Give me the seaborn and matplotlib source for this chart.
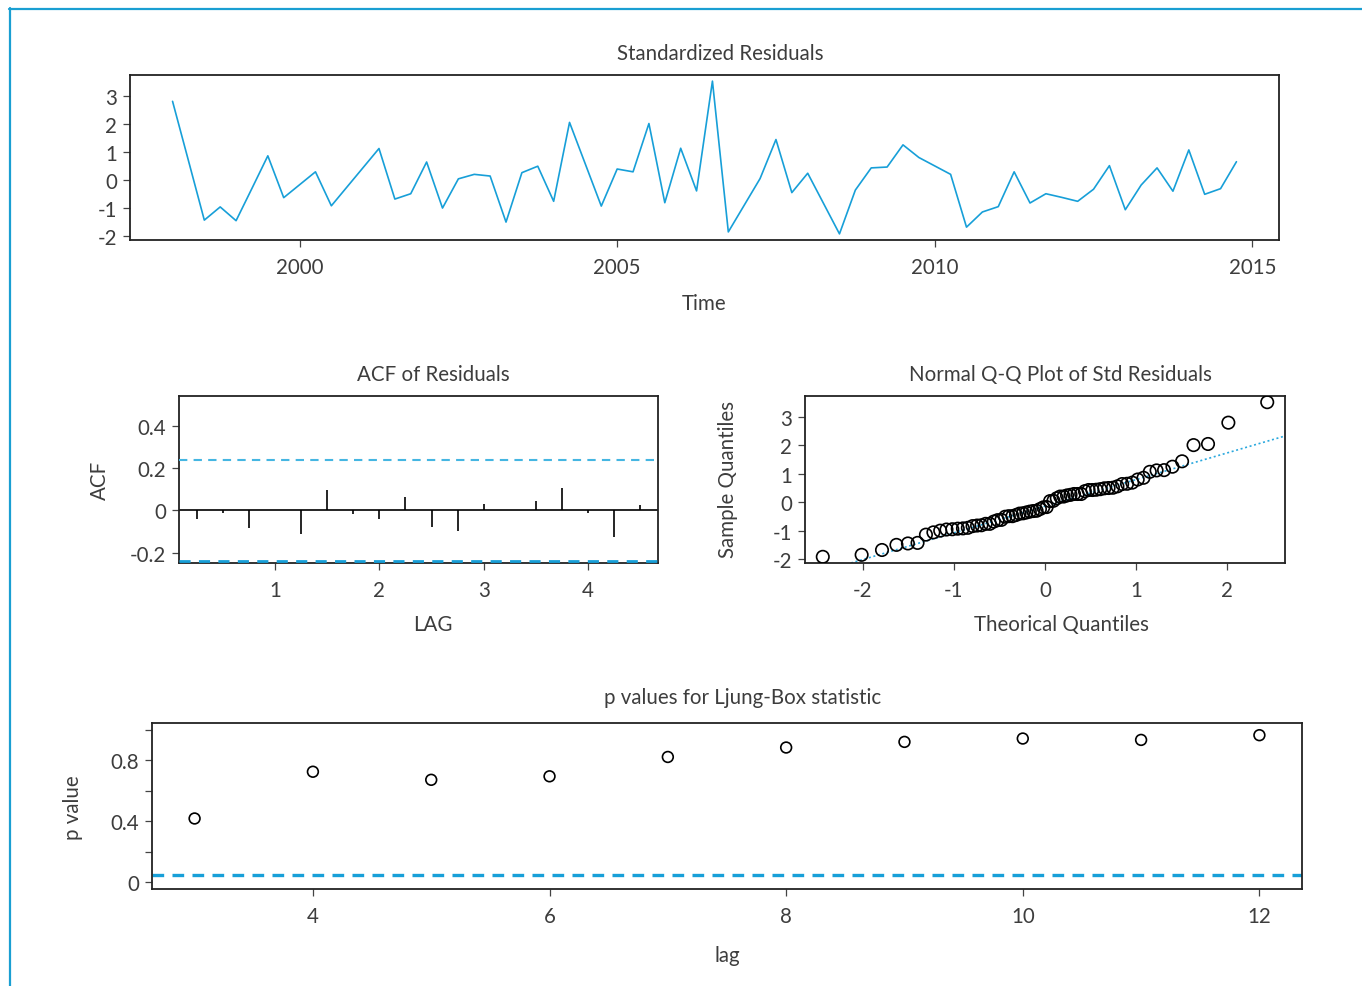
import numpy as np
import pandas as pd
import matplotlib
matplotlib.use("Agg")
import matplotlib.pyplot as plt
from matplotlib.lines import Line2D
import seaborn as sns
from statistics import NormalDist

# ---- data -------------------------------------------------------------
start_year = 1998
periods_per_year = 4

std_resid = [
    2.80, 0.69, -1.43, -0.96,      # 1998
    -1.45, -0.30, 0.86, -0.63,     # 1999
    -0.17, 0.29, -0.92, -0.24,     # 2000
    0.44, 1.12, -0.68, -0.49,      # 2001
    0.64, -1.00, 0.04, 0.20,       # 2002
    0.14, -1.50, 0.26, 0.49,       # 2003
    -0.76, 2.05, 0.56, -0.93,      # 2004
    0.39, 0.29, 2.01, -0.81,       # 2005
    1.13, -0.39, 3.52, -1.85,      # 2006
    -0.90, 0.05, 1.44, -0.45,      # 2007
    0.24, -0.84, -1.92, -0.36,     # 2008
    0.43, 0.46, 1.25, 0.80,        # 2009
    0.50, 0.20, -1.68, -1.14,      # 2010
    -0.95, 0.29, -0.82, -0.49,     # 2011
    -0.62, -0.76, -0.33, 0.51,     # 2012
    -1.06, -0.18, 0.43, -0.40,     # 2013
    1.07, -0.51, -0.31, 0.65,      # 2014
]

acf_lags = [0.25, 0.50, 0.75, 1.00, 1.25, 1.50, 1.75, 2.00, 2.25,
            2.50, 2.75, 3.00, 3.25, 3.50, 3.75, 4.00, 4.25, 4.50]
acf_vals = [-0.039, -0.011, -0.086, 0.002, -0.113, 0.097, -0.019, -0.039, 0.061,
            -0.077, -0.099, 0.030, 0.002, 0.045, 0.105, -0.011, -0.127, 0.024]

lb_lags = [3, 4, 5, 6, 7, 8, 9, 10, 11, 12]
lb_pvals = [0.418, 0.725, 0.672, 0.695, 0.822, 0.884, 0.921, 0.943, 0.934, 0.965]

year_ticks = [2000, 2005, 2010, 2015]

# ---- derived quantities ----------------------------------------------
n = len(std_resid)
time = start_year + np.arange(n) / periods_per_year
ts_df = pd.DataFrame({"Time": time, "resid": std_resid})

nd = NormalDist()
probs = (np.arange(1, n + 1) - 0.5) / n
theo_q = np.array([nd.inv_cdf(p) for p in probs])
samp_q = np.sort(np.array(std_resid))
qq_df = pd.DataFrame({"theo": theo_q, "samp": samp_q})
y_q1, y_q3 = np.percentile(std_resid, [25, 75])
x_q1, x_q3 = nd.inv_cdf(0.25), nd.inv_cdf(0.75)
qq_slope = (y_q3 - y_q1) / (x_q3 - x_q1)
qq_int = y_q1 - qq_slope * x_q1

conf = 1.96 / np.sqrt(n)
lb_df = pd.DataFrame({"lag": lb_lags, "p": lb_pvals})

# ---- style ------------------------------------------------------------
sns.set_theme(style="white")
plt.rcParams["font.family"] = ["Lato", "DejaVu Sans"]
plt.rcParams["font.weight"] = "normal"
plt.rcParams["axes.unicode_minus"] = False

TXT = "#3d3d3d"
BLUE = "#179fd8"
LIGHT_BLUE = "#45b6e2"
SPINE = "#222222"
FS = 14.8

W, H = 1362, 987
fig = plt.figure(figsize=(W / 100, H / 100), dpi=100)
fig.patch.set_facecolor("white")


def add_axes_px(left, top, right, bottom):
    return fig.add_axes([left / W, 1 - bottom / H, (right - left) / W, (bottom - top) / H])


def style_axes(ax):
    ax.set_facecolor("white")
    for s in ax.spines.values():
        s.set_visible(True)
        s.set_color(SPINE)
        s.set_linewidth(1.3)
    ax.tick_params(axis="both", which="both", direction="out", length=5.2, width=0.9,
                   color="#444444", labelcolor=TXT, labelsize=FS,
                   left=True, bottom=True, right=False, top=False)
    ax.tick_params(axis="x", pad=7)
    ax.tick_params(axis="y", pad=4)
    ax.set_xlabel("")
    ax.set_ylabel("")


def ftext(x, y, s, **kw):
    fig.text(x / W, 1 - y / H, s, ha="center", va="center", color=TXT,
             fontsize=FS, **kw)


# outer frame accents
fig.add_artist(Line2D([9 / W, 1.0], [1 - 9.5 / H, 1 - 9.5 / H], color="#1a9fd2", lw=1.6,
                      transform=fig.transFigure))
fig.add_artist(Line2D([9.5 / W, 9.5 / W], [0.0, 1 - 9 / H], color="#1a9fd2", lw=1.6,
                      transform=fig.transFigure))

# ---- standardized residuals ----------------------------------------------
ax1 = add_axes_px(130, 76, 1279, 241)
sns.lineplot(data=ts_df, x="Time", y="resid", ax=ax1, color=BLUE, lw=1.2)
rng = max(std_resid) - min(std_resid)
ax1.set_ylim(min(std_resid) - 0.04 * rng, max(std_resid) + 0.04 * rng)
trng = time[-1] - time[0]
ax1.set_xlim(time[0] - 0.04 * trng, time[-1] + 0.04 * trng)
ax1.set_xticks(year_ticks)
ax1.set_xticklabels([str(y) for y in year_ticks])
ax1.set_yticks([-2, -1, 0, 1, 2, 3])
ax1.set_yticklabels(["-2", "-1", "0", "1", "2", "3"])
style_axes(ax1)
ftext(720, 54, "Standardized Residuals")
ftext(704, 304, "Time")

# ---- ACF of residuals -----------------------------------------------------
ax2 = add_axes_px(179, 397, 658, 564)
ax2.vlines(acf_lags, 0, acf_vals, color="black", lw=1.2)
ax2.axhline(0, color="black", lw=1.2)
ax2.axhline(conf, color=LIGHT_BLUE, lw=1.5, ls=(0, (4, 3)), zorder=3)
ax2.axhline(-conf, color=BLUE, lw=2.0, ls=(0, (4, 3)), zorder=3)
lrng = acf_lags[-1] - acf_lags[0]
ax2.set_xlim(acf_lags[0] - 0.04 * lrng, acf_lags[-1] + 0.04 * lrng)
ax2.set_ylim(-0.249, 0.54)
ax2.set_xticks([1, 2, 3, 4])
ax2.set_xticklabels(["1", "2", "3", "4"])
ax2.set_yticks([-0.2, 0, 0.2, 0.4])
ax2.set_yticklabels(["-0.2", "0", "0.2", "0.4"])
style_axes(ax2)
ftext(433, 375, "ACF of Residuals")
ftext(433, 625, "LAG")
ftext(100, 480, "ACF", rotation=90)

# ---- normal Q-Q plot --------------------------------------------------------
ax3 = add_axes_px(805, 397, 1285, 564)
sns.scatterplot(data=qq_df, x="theo", y="samp", ax=ax3, marker="o", s=80,
                facecolor="none", edgecolor="black", linewidth=1.2, zorder=3)
ax3.axline((0, qq_int), slope=qq_slope, color="#2aa8de", lw=1.2, ls=(0, (1.2, 1.6)))
xr = theo_q.max()
ax3.set_xlim(-xr * 1.08, xr * 1.08)
qr = samp_q.max() - samp_q.min()
ax3.set_ylim(samp_q.min() - 0.04 * qr, samp_q.max() + 0.04 * qr)
ax3.set_xticks([-2, -1, 0, 1, 2])
ax3.set_xticklabels(["-2", "-1", "0", "1", "2"])
ax3.set_yticks([-2, -1, 0, 1, 2, 3])
ax3.set_yticklabels(["-2", "-1", "0", "1", "2", "3"])
style_axes(ax3)
ftext(1060, 375, "Normal Q-Q Plot of Std Residuals")
ftext(1061, 625, "Theorical Quantiles")
ftext(728, 480, "Sample Quantiles", rotation=90)

# ---- Ljung-Box p-values ------------------------------------------------------
ax4 = add_axes_px(152, 724, 1302, 890)
sns.scatterplot(data=lb_df, x="lag", y="p", ax=ax4, marker="o", s=60,
                facecolor="none", edgecolor="black", linewidth=1.2, zorder=3)
ax4.axhline(0.05, color=BLUE, lw=2.4, ls=(0, (3.5, 2.5)))
kr = lb_lags[-1] - lb_lags[0]
ax4.set_xlim(lb_lags[0] - 0.04 * kr, lb_lags[-1] + 0.04 * kr)
ax4.set_ylim(-0.045, 1.045)
ax4.set_xticks([4, 6, 8, 10, 12])
ax4.set_xticklabels(["4", "6", "8", "10", "12"])
ax4.set_yticks([0, 0.2, 0.4, 0.6, 0.8, 1.0])
ax4.set_yticklabels(["0", "", "0.4", "", "0.8", ""])
style_axes(ax4)
ftext(743, 698, "p values for Ljung-Box statistic")
ftext(727, 956, "lag")
ftext(73, 808, "p value", rotation=90)

fig.savefig("out.png", dpi=100, facecolor="white")
